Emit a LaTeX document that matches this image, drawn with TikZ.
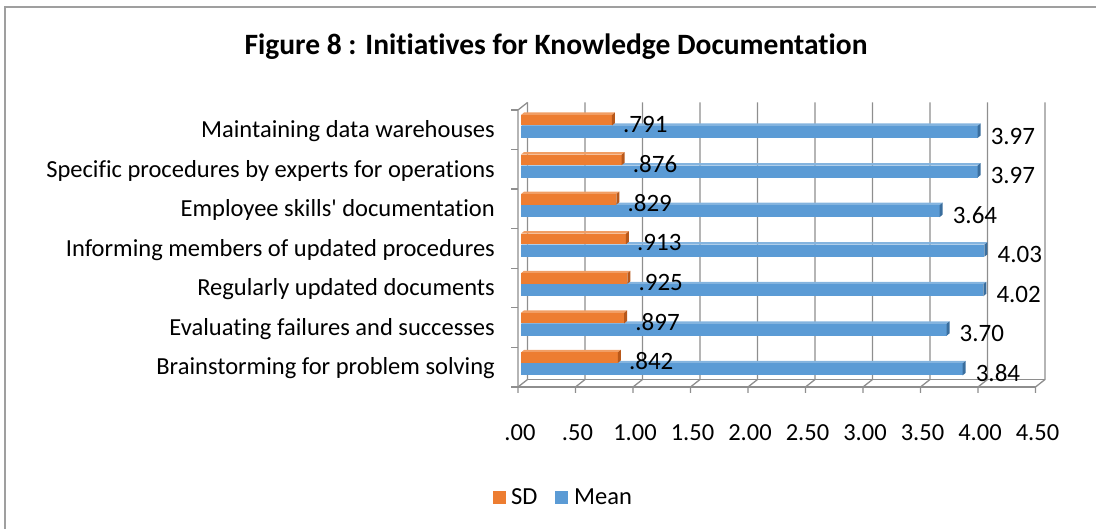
\documentclass[tikz,border=0pt]{standalone}
\usepackage{fontspec}
\setmainfont{Carlito}[Ligatures=NoCommon]
\definecolor{sdorange}{HTML}{ED7D31}
\definecolor{sddark}{HTML}{B8581A}
\definecolor{meanblue}{HTML}{5B9BD5}
\definecolor{meandark}{HTML}{3A6E9E}
\definecolor{gridgray}{HTML}{8E8E8E}
\newcommand{\chartbar}[5]{%
  \fill[#4!75!white] (521,#1) -- ++(3,-2.5) -- ({521+115*#3+3},{(#1)-2.5}) -- ({521+115*#3},#1) -- cycle;
  \fill[#4] (521,#1) rectangle ({521+115*#3},#2);
  \fill[#5] ({521+115*#3},#1) -- ({521+115*#3+3},{(#1)-2.5}) -- ({521+115*#3+3},{(#2)-2.5}) -- ({521+115*#3},#2) -- cycle;
}
\tikzset{
  gridline/.style={draw=gridgray, line width=1.3pt},
  catlabel/.style={anchor=east, inner sep=0pt, font=\fontsize{24.5}{26}\selectfont},
  vallabel/.style={anchor=west, inner sep=0pt, font=\fontsize{25}{27}\selectfont},
  ticklabel/.style={inner sep=0pt, font=\fontsize{24.5}{26}\selectfont}
}
\begin{document}
\begin{tikzpicture}[x=1pt, y=-1pt]
  \useasboundingbox (0,0) rectangle (1096,529);
  \draw[draw=gray!75, line width=1.5pt] (1096,7) -- (5,7) -- (5,529);
  \node[font=\bfseries\fontsize{29.5}{31}\selectfont] (title) at (556,47)
    {Figure 8 : Initiatives for Knowledge Documentation};
  \begin{scope}[gridline]
    \foreach \v in {0,0.5,...,4.5} {
      \draw ({518+115*\v},393) -- ({518+115*\v},387) -- ++(9.5,-7.5) -- ++(0,-277);
    }
    \draw (518,387) -- (1035.5,387);
    \draw (527.5,379.5) -- (1045,379.5);
    \draw (518,387) -- (518,110) -- (527.5,102.5);
    \foreach \k in {0,...,7} {
      \draw (511,{110+39.57*\k}) -- (518,{110+39.57*\k});
    }
  \end{scope}
  \foreach \i/\sd/\mn/\sdt/\mnt/\cat in {
      0/0.791/3.97/.791/3.97/Maintaining data warehouses,
      1/0.876/3.97/.876/3.97/Specific procedures by experts for operations,
      2/0.829/3.64/.829/3.64/Employee skills\textquotesingle\ documentation,
      3/0.913/4.03/.913/4.03/Informing members of updated procedures,
      4/0.925/4.02/.925/4.02/Regularly updated documents,
      5/0.897/3.70/.897/3.70/Evaluating failures and successes,
      6/0.842/3.84/.842/3.84/Brainstorming for problem solving} {
    \pgfmathsetmacro{\yt}{110+39.57*\i}
    \chartbar{\yt+16}{\yt+28}{\mn}{meanblue}{meandark}
    \chartbar{\yt+5}{\yt+15.5}{\sd}{sdorange}{sddark}
    \node[catlabel] (cat\i) at (495,\yt+21) {\cat};
    \node[vallabel] (sd\i) at ({521+115*\sd+11},\yt+14) {\sdt};
    \node[vallabel] (mean\i) at ({521+115*\mn+13},\yt+26) {\mnt};
  }
  \foreach \v/\t in {0/.00,0.5/.50,1/1.00,1.5/1.50,2/2.00,2.5/2.50,3/3.00,3.5/3.50,4/4.00,4.5/4.50} {
    \node[ticklabel] (tick\t) at ({520+115*\v},433) {\t};
  }
  \fill[sdorange] (493,491) rectangle (506,504);
  \node[ticklabel, anchor=west] (sdkey) at (511,497) {SD};
  \fill[meanblue] (555,491) rectangle (568,504);
  \node[ticklabel, anchor=west] (meankey) at (574,497) {Mean};
\end{tikzpicture}
\end{document}
